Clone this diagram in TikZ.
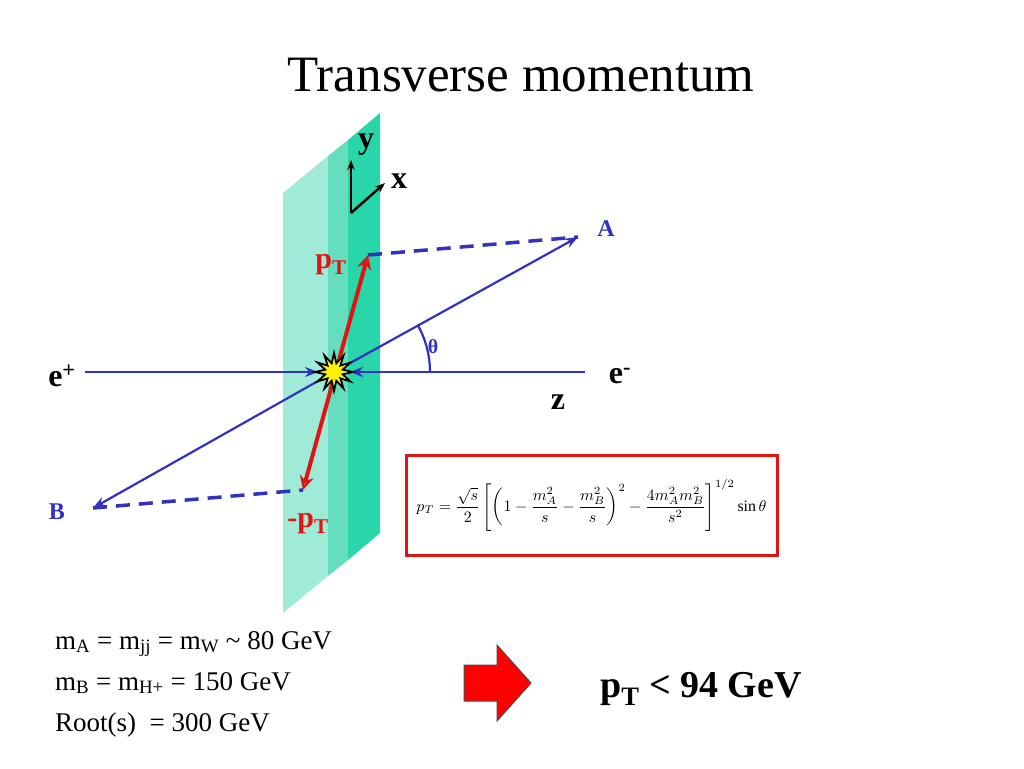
\documentclass[tikz,border=0pt]{standalone}
\usepackage{fontspec}
\usepackage{amsmath}
\usepackage{graphicx}
\usetikzlibrary{arrows.meta,calc}
\setmainfont{Liberation Serif}
\definecolor{lblue}{RGB}{50,50,190}
\definecolor{sA}{RGB}{160,235,215}
\definecolor{sB}{RGB}{100,222,190}
\definecolor{sC}{RGB}{40,214,170}
\definecolor{tred}{RGB}{225,20,20}
\begin{document}
\begin{tikzpicture}[x=1pt,y=-1pt,
  beam/.style={lblue,line width=2.2pt,-{Stealth[length=13pt,width=10pt,open]}},
  dsh/.style={lblue,line width=3.5pt,dash pattern=on 14pt off 9pt},
  lab/.style={font=\bfseries\fontsize{32}{34}\selectfont,inner sep=0pt},
  txt/.style={font=\fontsize{27}{29}\selectfont,inner sep=0pt,anchor=base west}]
\useasboundingbox (0,0) rectangle (1024,768);
% plane strips
\fill[sA] (283,193) -- (328,156) -- (328,576) -- (283,613) -- cycle;
\fill[sB] (328,156) -- (348,140) -- (348,560) -- (328,576) -- cycle;
\fill[sC] (348,140) -- (380,113) -- (380,533) -- (348,560) -- cycle;
\node[font=\fontsize{51}{54}\selectfont] (title) at (521,75) {Transverse momentum};
% coordinates
\coordinate (O) at (334,372);
\coordinate (Ep) at (85,372);
\coordinate (Em) at (585,372);
\coordinate (A) at (578,237);
\coordinate (B) at (93,508);
\coordinate (PT) at (368,255);
\coordinate (MPT) at (303,490);
% dashed
\draw[dsh] (PT) -- (A);
\draw[dsh] (B) -- (MPT);
% beams
\draw[beam] (Ep) -- (318,372);
\draw[beam] (Em) -- (350,372);
\draw[beam] (O) -- (A);
\draw[beam] (O) -- (B);
% theta arc
\draw[lblue,line width=2.2pt] ([shift={(0:96)}]O) arc[start angle=0,end angle=-29.6,radius=96];
\node[lblue,font=\bfseries\fontsize{20}{22}\selectfont] (th) at (433,347) {θ};
% pT arrows
\draw[tred,line width=4pt,{Stealth[length=14pt,width=14pt,open]}-{Stealth[length=14pt,width=14pt,open]}] (MPT) -- (PT);
% star
\fill[yellow,draw=black,line width=1.8pt] ($(O)+(0:19)$)
 \foreach \i in {1,...,23}{ -- ($(O)+({\i*15}:{mod(\i,2)==1?9:19})$) } -- cycle;
% axes
\coordinate (ax) at (351,213);
\draw[line width=2.5pt,-{Stealth[length=10pt,open]}] (ax) -- (351,160);
\draw[line width=2.5pt,-{Stealth[length=10pt,open]}] (ax) -- (385,183);
\node[lab] (ly) at (366,145) {y};
\node[lab] (lx) at (399,181) {x};
% labels
\node[lab] (lep) at (62,376) {e\textsuperscript{+}};
\node[lab] (lem) at (620,376) {e\textsuperscript{-}};
\node[lab] (lz) at (558,402) {z};
\node[lblue,font=\bfseries\fontsize{24}{26}\selectfont] (lA) at (606,229) {A};
\node[lblue,font=\bfseries\fontsize{24}{26}\selectfont] (lB) at (57,512) {B};
\node[tred,font=\bfseries\fontsize{30}{32}\selectfont] (lpt) at (331,265) {p\textsubscript{T}};
\node[tred,font=\bfseries\fontsize{30}{32}\selectfont] (lmpt) at (308,524) {-p\textsubscript{T}};
% formula
\node[draw=tred,line width=3pt,minimum width=371pt,minimum height=100pt,inner sep=0pt] (box) at (591.5,505) {};
\node (f) at (box) {\resizebox{350pt}{!}{$\displaystyle p_T=\frac{\sqrt{s}}{2}\left[\left(1-\frac{m_A^2}{s}-\frac{m_B^2}{s}\right)^2-\frac{4m_A^2m_B^2}{s^2}\right]^{1/2}\sin\theta$}};
% bottom text
\node[txt] (t1) at (55,649) {m\textsubscript{A} = m\textsubscript{jj} = m\textsubscript{W} \textasciitilde{} 80 GeV};
\node[txt] (t2) at (55,690) {m\textsubscript{B} = m\textsubscript{H+} = 150 GeV};
\node[txt] (t3) at (55,731) {Root(s) \ = 300 GeV};
% block arrow
\fill[red,draw=black!70,line width=1pt] (464,665) -- (497,665) -- (497,645) -- (531,683) -- (497,721) -- (497,701) -- (464,701) -- cycle;
\node[font=\bfseries\fontsize{38}{40}\selectfont,anchor=base west,inner sep=0pt] (res) at (600,697) {p\textsubscript{T} < 94 GeV};
\end{tikzpicture}
\end{document}
